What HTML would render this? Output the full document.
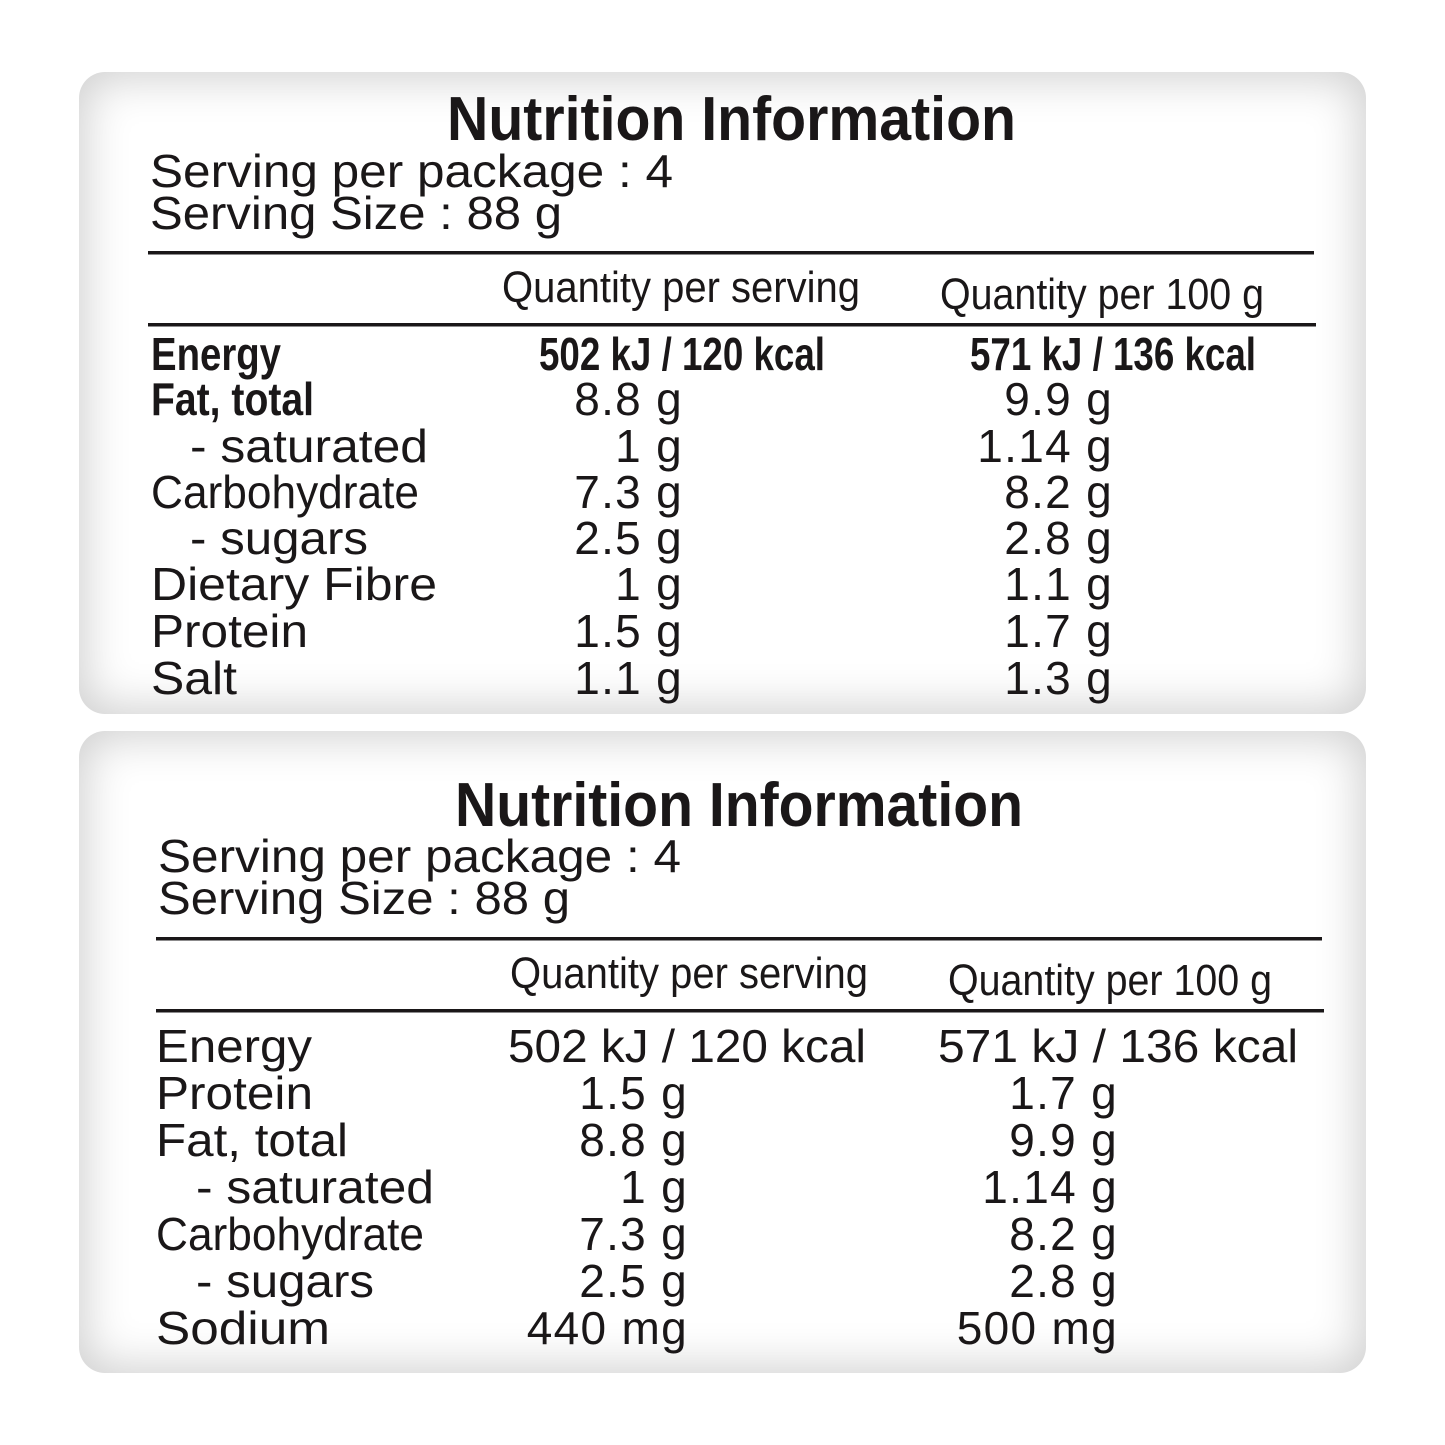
<!DOCTYPE html>
<html><head><meta charset="utf-8"><style>
html,body{margin:0;padding:0;background:#fff;}
.wrap{position:relative;width:1445px;height:1445px;overflow:hidden;}
.p{position:absolute;left:79px;width:1287px;height:642px;border-radius:26px;background:#fff;box-shadow:inset 0 0 45px 6px #cfcfcf;}
svg{position:absolute;left:0;top:0;}
text{font-family:"Liberation Sans",sans-serif;fill:#1a1718;}
.t{font-weight:bold;font-size:62px;}
.s{font-size:46px;}
.h{font-size:44px;}
.b{font-weight:bold;font-size:46px;}
.r{text-anchor:end;font-size:46px;letter-spacing:1.3px;}
</style></head><body><div class="wrap">
<div class="p" style="top:72px"></div>
<div class="p" style="top:731px"></div>
<svg width="1445" height="1445" viewBox="0 0 1445 1445">
<g>
<text class="t" x="447" y="140" textLength="569" lengthAdjust="spacingAndGlyphs">Nutrition Information</text>
<text class="s" x="150" y="187" textLength="523" lengthAdjust="spacingAndGlyphs">Serving per package : 4</text>
<text class="s" x="150" y="229" textLength="412" lengthAdjust="spacingAndGlyphs">Serving Size : 88 g</text>
<rect x="148" y="251" width="1166" height="3.5" fill="#1a1718"/>
<text class="h" x="502" y="302" textLength="358" lengthAdjust="spacingAndGlyphs">Quantity per serving</text>
<text class="h" x="940" y="309" textLength="324" lengthAdjust="spacingAndGlyphs">Quantity per 100 g</text>
<rect x="148" y="323" width="1168" height="3.5" fill="#1a1718"/>
<text class="b" x="151" y="370" textLength="130" lengthAdjust="spacingAndGlyphs">Energy</text>
<text class="b" x="539" y="370" textLength="286" lengthAdjust="spacingAndGlyphs">502 kJ / 120 kcal</text>
<text class="b" x="970" y="370" textLength="286" lengthAdjust="spacingAndGlyphs">571 kJ / 136 kcal</text>
<text class="b" x="151" y="415" textLength="163" lengthAdjust="spacingAndGlyphs">Fat, total</text>
<text class="s" x="190" y="462" textLength="238" lengthAdjust="spacingAndGlyphs">- saturated</text>
<text class="s" x="151" y="508" textLength="268" lengthAdjust="spacingAndGlyphs">Carbohydrate</text>
<text class="s" x="190" y="554" textLength="178" lengthAdjust="spacingAndGlyphs">- sugars</text>
<text class="s" x="151" y="600" textLength="286" lengthAdjust="spacingAndGlyphs">Dietary Fibre</text>
<text class="s" x="151" y="647" textLength="157" lengthAdjust="spacingAndGlyphs">Protein</text>
<text class="s" x="151" y="694" textLength="86" lengthAdjust="spacingAndGlyphs">Salt</text>
<text class="r" x="683" y="415">8.8 g</text><text class="r" x="1113" y="415">9.9 g</text>
<text class="r" x="683" y="462">1 g</text><text class="r" x="1113" y="462">1.14 g</text>
<text class="r" x="683" y="508">7.3 g</text><text class="r" x="1113" y="508">8.2 g</text>
<text class="r" x="683" y="554">2.5 g</text><text class="r" x="1113" y="554">2.8 g</text>
<text class="r" x="683" y="600">1 g</text><text class="r" x="1113" y="600">1.1 g</text>
<text class="r" x="683" y="647">1.5 g</text><text class="r" x="1113" y="647">1.7 g</text>
<text class="r" x="683" y="694">1.1 g</text><text class="r" x="1113" y="694">1.3 g</text>
</g>
<g>
<text class="t" x="455" y="826" textLength="568" lengthAdjust="spacingAndGlyphs">Nutrition Information</text>
<text class="s" x="158" y="872" textLength="523" lengthAdjust="spacingAndGlyphs">Serving per package : 4</text>
<text class="s" x="158" y="914" textLength="412" lengthAdjust="spacingAndGlyphs">Serving Size : 88 g</text>
<rect x="156" y="937" width="1166" height="3.5" fill="#1a1718"/>
<text class="h" x="510" y="988" textLength="358" lengthAdjust="spacingAndGlyphs">Quantity per serving</text>
<text class="h" x="948" y="995" textLength="324" lengthAdjust="spacingAndGlyphs">Quantity per 100 g</text>
<rect x="156" y="1009" width="1168" height="3.5" fill="#1a1718"/>
<text class="s" x="156" y="1062" textLength="156" lengthAdjust="spacingAndGlyphs">Energy</text>
<text class="s" x="508" y="1062" textLength="358" lengthAdjust="spacingAndGlyphs">502 kJ / 120 kcal</text>
<text class="s" x="938" y="1062" textLength="360" lengthAdjust="spacingAndGlyphs">571 kJ / 136 kcal</text>
<text class="s" x="156" y="1109" textLength="157" lengthAdjust="spacingAndGlyphs">Protein</text>
<text class="s" x="156" y="1156" textLength="192" lengthAdjust="spacingAndGlyphs">Fat, total</text>
<text class="s" x="196" y="1203" textLength="238" lengthAdjust="spacingAndGlyphs">- saturated</text>
<text class="s" x="156" y="1250" textLength="268" lengthAdjust="spacingAndGlyphs">Carbohydrate</text>
<text class="s" x="196" y="1297" textLength="178" lengthAdjust="spacingAndGlyphs">- sugars</text>
<text class="s" x="156" y="1344" textLength="174" lengthAdjust="spacingAndGlyphs">Sodium</text>
<text class="r" x="688" y="1109">1.5 g</text><text class="r" x="1118" y="1109">1.7 g</text>
<text class="r" x="688" y="1156">8.8 g</text><text class="r" x="1118" y="1156">9.9 g</text>
<text class="r" x="688" y="1203">1 g</text><text class="r" x="1118" y="1203">1.14 g</text>
<text class="r" x="688" y="1250">7.3 g</text><text class="r" x="1118" y="1250">8.2 g</text>
<text class="r" x="688" y="1297">2.5 g</text><text class="r" x="1118" y="1297">2.8 g</text>
<text class="r" x="688" y="1344">440 mg</text><text class="r" x="1118" y="1344">500 mg</text>
</g>
</svg></div></body></html>
